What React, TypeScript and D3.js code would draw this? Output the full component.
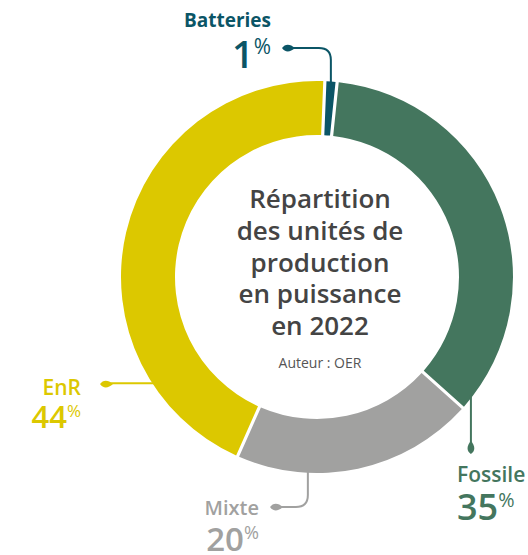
import React from "react";
import * as d3 from "d3";

const categories = ["Batteries", "Fossile", "Mixte", "EnR"];
const values = [1, 35, 20, 44];
const colors = ["#0b5566", "#44765e", "#a1a1a0", "#dcc800"];
const titleLines = ["Répartition", "des unités de", "production", "en puissance", "en 2022"];
const author = "Auteur : OER";

const W = 528, H = 555;
const cx = 317, cy = 277, R = 196, r = 142;
const deg = Math.PI / 180;
const FONT = "'Open Sans', 'Noto Sans', sans-serif";

function leaf(x: number, y: number, dir: "left" | "down", color: string) {
  // lens-shaped marker, tip at (x, y) pointing away from the line
  const p = d3.path();
  const L = 13, w = 4.5;
  if (dir === "left") {
    p.moveTo(x, y);
    p.bezierCurveTo(x + 3, y - w, x + 8, y - w, x + L, y);
    p.bezierCurveTo(x + 8, y + w, x + 3, y + w, x, y);
  } else {
    p.moveTo(x, y);
    p.bezierCurveTo(x - w, y - 3, x - w, y - 8, x, y - L);
    p.bezierCurveTo(x + w, y - 8, x + w, y - 3, x, y);
  }
  p.closePath();
  return <path d={p.toString()} fill={color} />;
}

export default function App() {
  const pie = d3.pie<number>().sort(null).value((d) => d)
    .startAngle(2.3 * deg).endAngle(362.3 * deg);
  const arcs = pie(values);
  const arc = d3.arc<d3.PieArcDatum<number>>()
    .innerRadius(r).outerRadius(R).padAngle(3.2 / R).padRadius(R);
  const pt = (a: number, rad: number) => [cx + rad * Math.sin(a * deg), cy - rad * Math.cos(a * deg)];

  const bAngle = ((arcs[0].startAngle + arcs[0].endAngle) / 2) / deg;
  const [bx, by] = pt(bAngle, R - 2);
  const [fx, fy] = pt(127.5, R - 2);
  const [mx, my] = pt(182.7, R - 2);
  const [ex, ey] = pt(236.8, R - 2);

  // label block: category name + percentage, as one text with tspans
  const label = (i: number, x: number, y: number, anchor: string, nameSize: number, nameWeight: number, pctSize: number, gap: number) => (
    <text textAnchor={anchor} fill={colors[i]} fontFamily={FONT}>
      <tspan x={x} y={y} fontWeight={nameWeight} fontSize={nameSize}>{categories[i]}</tspan>
      <tspan x={x} y={y + gap} fontWeight={600} fontSize={pctSize}>
        {values[i]}
        <tspan fontSize={pctSize * 0.55} fontWeight={500} dy={-pctSize * 0.36}>%</tspan>
      </tspan>
    </text>
  );

  return (
    <svg width={W} height={H} style={{ position: "absolute", left: 0, top: 0 }}>
      <rect width={W} height={H} fill="#fff" />
      <g transform={`translate(${cx},${cy})`}>
        {arcs.map((a, i) => (
          <path key={categories[i]} d={arc(a) || ""} fill={colors[i]} />
        ))}
      </g>

      {/* leader lines */}
      <path d={`M${bx},${by} V60 Q${bx},48 ${bx - 12},48 H293`} fill="none" stroke={colors[0]} strokeWidth={2} />
      {leaf(282, 48, "left", colors[0])}
      <path d={`M${fx},${fy} V443`} fill="none" stroke={colors[1]} strokeWidth={2} />
      {leaf(fx, 454, "down", colors[1])}
      <path d={`M${mx},${my} V495 Q${mx},507 ${mx - 12},507 H281`} fill="none" stroke={colors[2]} strokeWidth={2} />
      {leaf(270, 507, "left", colors[2])}
      <path d={`M${ex},${ey} H110`} fill="none" stroke={colors[3]} strokeWidth={2} />
      {leaf(100, 384, "left", colors[3])}

      {/* labels */}
      {label(0, 271, 27, "end", 19, 700, 38, 41)}
      {label(1, 457, 482, "start", 21, 600, 36, 38)}
      {label(2, 259, 515, "end", 20, 600, 33, 36)}
      {label(3, 81, 395, "end", 21, 600, 31, 33)}

      {/* center */}
      {titleLines.map((t, i) => (
        <text key={t} x={320} y={208 + i * 31.8} textAnchor="middle" fill="#444" fontFamily={FONT} fontWeight={600} fontSize={26}>{t}</text>
      ))}
      <text x={320} y={368} textAnchor="middle" fill="#555" fontFamily={FONT} fontSize={14}>{author}</text>
    </svg>
  );
}
